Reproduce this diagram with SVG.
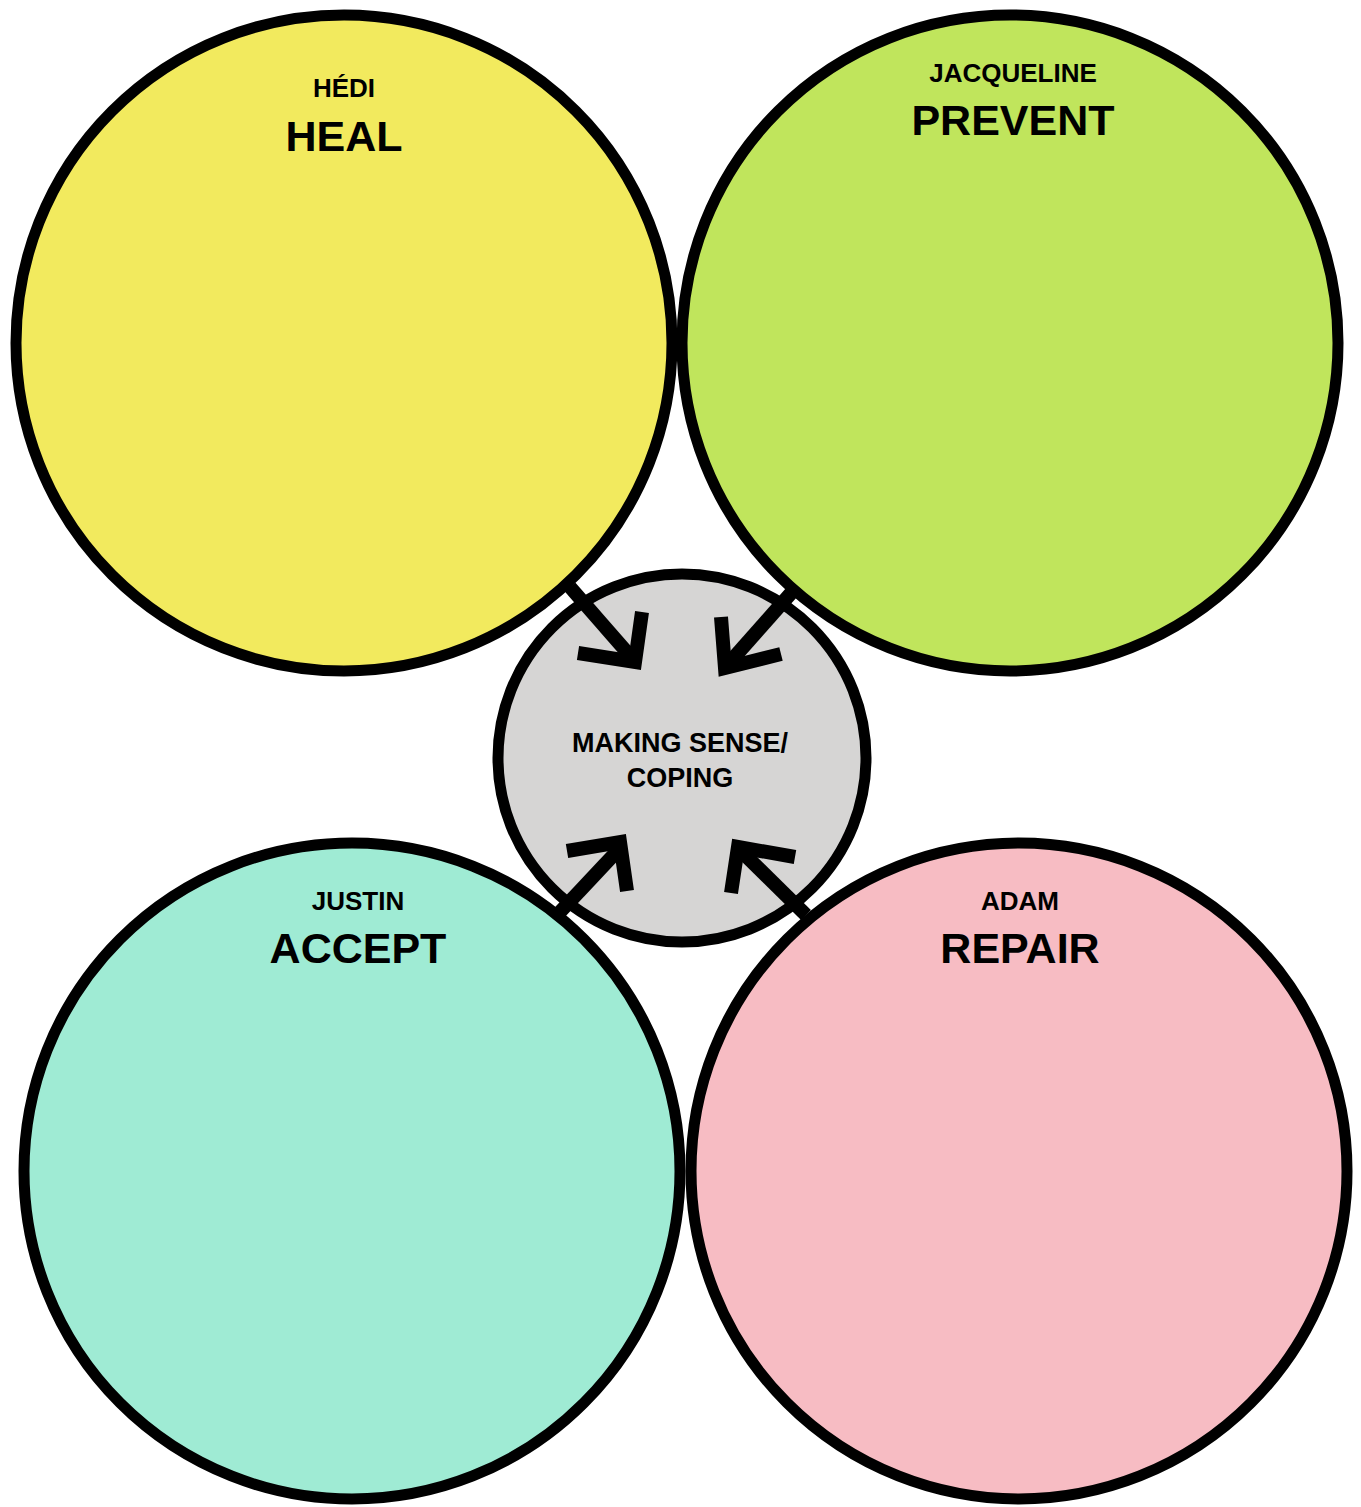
<svg xmlns="http://www.w3.org/2000/svg" width="1361" height="1507" viewBox="0 0 1361 1507">
<style>
.c{stroke:#000;stroke-width:11}
.t{font-family:"Liberation Sans",Arial,sans-serif;font-weight:bold;fill:#000;text-anchor:middle}
.s{font-size:26px}
.b{font-size:43px}
.m{font-size:27px}
.a{fill:none;stroke:#000;stroke-width:14;stroke-linejoin:miter;stroke-miterlimit:10}
</style>
<rect width="1361" height="1507" fill="#fff"/>
<g id="heal"><circle class="c" cx="344" cy="343" r="328" fill="#F2EA5E"/><text class="t s" x="344" y="97">HÉDI</text><text class="t b" x="344" y="151">HEAL</text></g>
<g id="prevent"><circle class="c" cx="1010" cy="343" r="328" fill="#C0E55C"/><text class="t s" x="1013" y="82">JACQUELINE</text><text class="t b" x="1013" y="135">PREVENT</text></g>
<g id="accept"><circle class="c" cx="352" cy="1171" r="328" fill="#9FEBD4"/><text class="t s" x="358" y="910">JUSTIN</text><text class="t b" x="358" y="963">ACCEPT</text></g>
<g id="repair"><circle class="c" cx="1019" cy="1171" r="328" fill="#F7BCC3"/><text class="t s" x="1020" y="910">ADAM</text><text class="t b" x="1020" y="963">REPAIR</text></g>
<g id="center"><circle class="c" cx="682" cy="758" r="184" fill="#D6D5D4"/><text class="t m" x="680" y="752">MAKING SENSE/</text><text class="t m" x="680" y="787">COPING</text></g>
<g id="connectors">
<line class="a" x1="570" y1="587" x2="632" y2="658"/><polyline class="a" points="578,653 635,662 642,612"/>
<line class="a" x1="792" y1="592" x2="730" y2="662"/><polyline class="a" points="721,617 725,668 781,654"/>
<line class="a" x1="560" y1="912" x2="622" y2="846"/><polyline class="a" points="567,851 620,842 627,891"/>
<line class="a" x1="806" y1="915" x2="742" y2="852"/><polyline class="a" points="731,893 738,847 795,857"/>
</g>
</svg>
